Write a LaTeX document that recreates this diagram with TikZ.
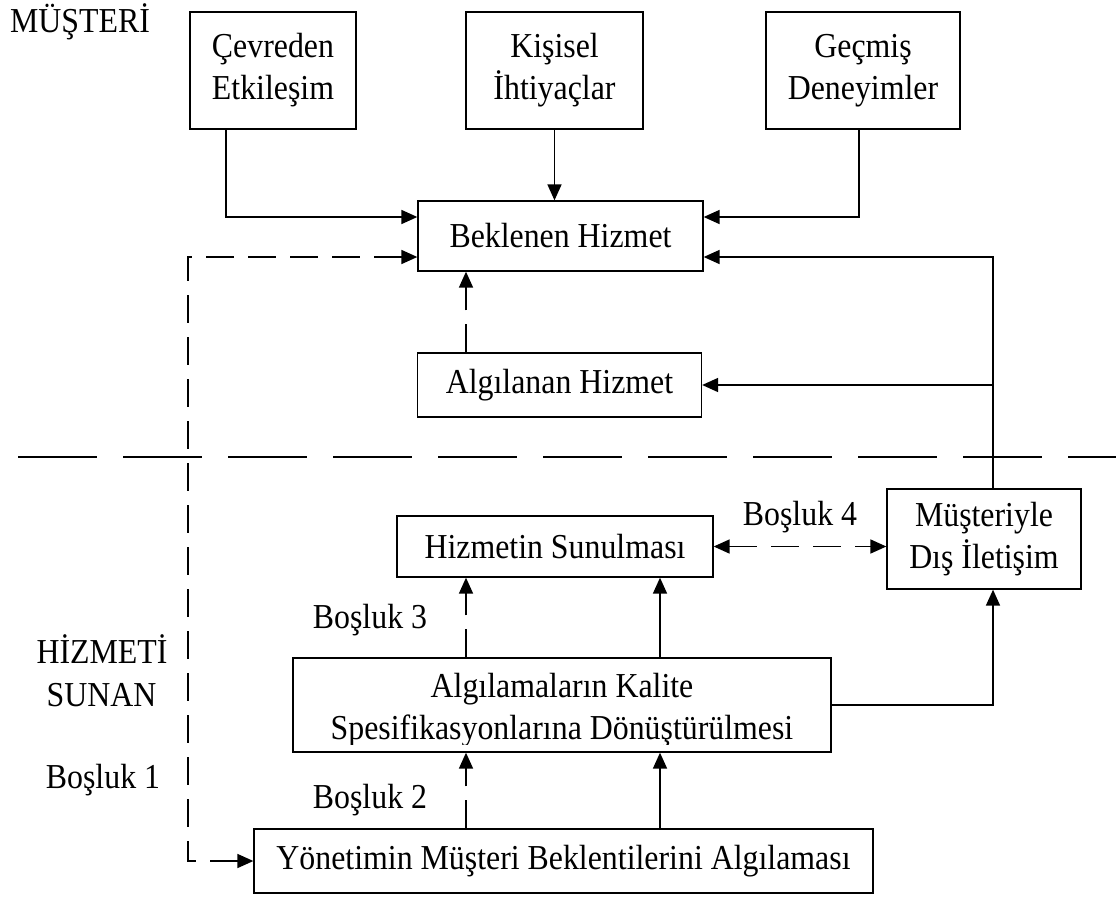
\documentclass[tikz,border=0pt]{standalone}
\usepackage{fontspec}
\setmainfont[FakeStretch=0.91]{Liberation Serif}
\usetikzlibrary{arrows.meta}
\begin{document}
\begin{tikzpicture}[x=1pt,y=-1pt,
  >={Triangle[length=16pt,width=14pt]},
  txt/.style={font=\fontsize{35}{42}\selectfont},
  box/.style={txt, draw, line width=1.3pt, inner sep=0pt, align=center},
  lbl/.style={txt, anchor=base, inner sep=0pt},
  arr/.style={line width=1.7pt, ->},
  darr/.style={arr, dash pattern=on 28pt off 14pt},
  sep/.style={line width=1.5pt, dash pattern=on 79pt off 26pt}]
\useasboundingbox (0,0) rectangle (1116,897);

% reference columns and rows for the connectors
\coordinate (xA) at (226,0);
\coordinate (xG) at (859,0);
\coordinate (xR) at (993,0);
\coordinate (xL) at (188,0);
\coordinate (xd) at (466,0);
\coordinate (xs) at (660,0);
\coordinate (yT) at (0,217);
\coordinate (yD) at (0,257);
\coordinate (s1) at (18,457);
\coordinate (s2) at (1116,457);

% customer side
\node[lbl] (must) at (80,32) {MÜŞTERİ};
\node[box, minimum width=166pt, minimum height=117pt] (cev) at (273,70.5) {Çevreden\\Etkileşim};
\node[box, minimum width=177pt, minimum height=117pt] (kis) at (554.5,70.5) {Kişisel\\İhtiyaçlar};
\node[box, minimum width=194pt, minimum height=117pt] (gec) at (863,70.5) {Geçmiş\\Deneyimler};
\node[box, minimum width=285pt, minimum height=70pt] (bek) at (560.5,236) {Beklenen Hizmet};
\node[box, minimum width=284pt, minimum height=64pt] (alh) at (559.5,385) {Algılanan Hizmet};

% provider side
\node[lbl] (hz1) at (102,663) {HİZMETİ};
\node[lbl] (hz2) at (101.5,706) {SUNAN};
\node[lbl] (b1) at (103,788) {Boşluk 1};
\node[lbl] (b2) at (370,808) {Boşluk 2};
\node[lbl] (b3) at (370,628) {Boşluk 3};
\node[lbl] (b4) at (800,525) {Boşluk 4};

\node[box, minimum width=316pt, minimum height=61pt] (hiz) at (555,546.5) {Hizmetin Sunulması};
\node[box, minimum width=194pt, minimum height=100pt] (mus) at (984,539) {Müşteriyle\\Dış İletişim};
\node[box, minimum width=538pt, minimum height=94pt] (alg) at (562,705) {};
\begin{scope}
  \clip (294,659) rectangle (830,744);
  \node[box, draw=none] (algtxt) at (562,710) {Algılamaların Kalite\\Spesifikasyonlarına Dönüştürülmesi};
\end{scope}
\node[box, minimum width=619pt, minimum height=64pt] (yom) at (563.5,861) {Yönetimin Müşteri Beklentilerini Algılaması};

% separator between the two sides
\draw[sep] (s1) -- (s2);

% connectors
\draw[arr] (cev.south -| xA) |- (bek.west |- yT);
\draw[arr] (kis.south) -- (kis.south |- bek.north);
\draw[arr] (gec.south -| xG) |- (bek.east |- yT);
\draw[arr] (mus.north -| xR) |- (bek.east |- yD);
\draw[arr] (alh.east -| xR) -- (alh.east);
\draw[darr] (alh.north -| xd) -- (bek.south -| xd);
\draw[darr, <->] (bek.west |- yD) -| (yom.west -| xL) -- (yom.west);
\draw[darr, <->] (hiz.east) -- (hiz.east -| mus.west);
\draw[darr] (alg.north -| xd) -- (hiz.south -| xd);
\draw[arr] (alg.north -| xs) -- (hiz.south -| xs);
\draw[arr] (alg.east) -| (mus.south -| xR);
\draw[darr] (yom.north -| xd) -- (alg.south -| xd);
\draw[arr] (yom.north -| xs) -- (alg.south -| xs);
\end{tikzpicture}
\end{document}
